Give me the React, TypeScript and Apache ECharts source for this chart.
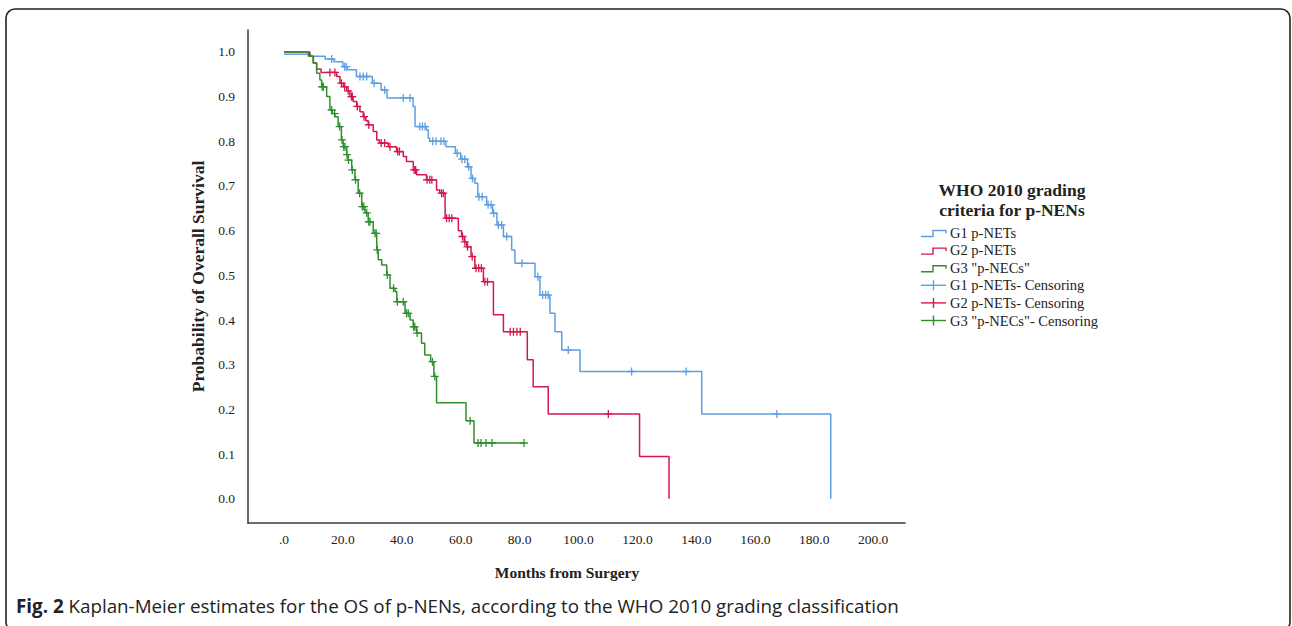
import React, { useEffect, useRef } from 'react';
import * as echarts from 'echarts';

// ---------- data ----------
const xTickValues = [0, 20, 40, 60, 80, 100, 120, 140, 160, 180, 200];
const yTickValues = [0, 0.1, 0.2, 0.3, 0.4, 0.5, 0.6, 0.7, 0.8, 0.9, 1.0];

const seriesNames = ['G1 p-NETs', 'G2 p-NETs', 'G3 "p-NECs"'];
const censorNames = ['G1 p-NETs- Censoring', 'G2 p-NETs- Censoring', 'G3 "p-NECs"- Censoring'];
const seriesColors = ['#5f9ee2', '#d4184b', '#2f8f2f'];

// Kaplan-Meier steps: [month, survival after the event]
const g1Steps: [number, number][] = [
  [0, 0.995], [9, 0.99], [14, 0.984], [17, 0.978], [20, 0.967], [21.5, 0.96], [24.6, 0.945],
  [30, 0.93], [33, 0.915], [35, 0.897], [43.8, 0.878], [44.5, 0.833], [48.4, 0.825],
  [49, 0.807], [49.5, 0.8], [55, 0.788], [58.2, 0.773], [60, 0.76], [62.3, 0.743],
  [63.5, 0.717], [64.8, 0.706], [65.8, 0.676], [68.8, 0.658], [70.8, 0.639], [72.3, 0.613],
  [74.5, 0.587], [77.3, 0.557], [78.4, 0.527], [85.2, 0.497], [86.9, 0.456], [90.3, 0.415],
  [92, 0.374], [94.3, 0.333], [100.5, 0.285], [141.8, 0.19], [185.6, 0.0],
];
const g1CensorMonths = [
  16.2, 20.6, 21.2, 25.8, 26.9, 28.1, 30.6, 34.2, 40.5, 42.8, 46.1, 47.0, 47.9,
  50.5, 51.6, 53.3, 54.3, 58.8, 60.4, 61.4, 62.7, 64.0, 66.2, 67.3, 69.3, 70.3,
  71.2, 72.8, 73.9, 75.6, 80.8, 86.2, 87.8, 88.8, 89.7, 96.5, 118, 136.5, 167.3,
];

const g2Steps: [number, number][] = [
  [0, 1.0], [8.8, 0.99], [10, 0.975], [11.1, 0.962], [12.6, 0.954], [17.9, 0.945],
  [19, 0.93], [20.2, 0.922], [21.3, 0.913], [22.4, 0.9], [23.5, 0.889], [24.7, 0.878],
  [25.8, 0.866], [26.9, 0.855], [27.8, 0.846], [28.6, 0.837], [30.3, 0.822], [31.5, 0.803],
  [32.4, 0.796], [35.4, 0.788], [38.2, 0.777], [40.5, 0.766], [41.6, 0.755], [43.9, 0.736],
  [45, 0.725], [48.4, 0.714], [51.8, 0.691], [52.9, 0.684], [54.7, 0.628], [59.2, 0.6],
  [60.3, 0.587], [61.2, 0.575], [62, 0.564], [63.5, 0.542], [64.8, 0.516], [67.7, 0.486],
  [71.1, 0.412], [74.5, 0.374], [82.6, 0.311], [84.6, 0.251], [89.7, 0.19], [120.7, 0.095],
  [130.7, 0.0],
];
const g2CensorMonths = [
  15.6, 17.3, 19.5, 20.6, 21.8, 22.9, 23.2, 24.9, 27.2, 28.8, 33.0, 34.2, 36.0,
  38.6, 39.2, 44.2, 44.7, 48.6, 49.5, 50.2, 53.5, 54.1, 55.2, 56.1, 57.0, 60.6,
  61.4, 62.3, 63.9, 65.2, 66.1, 67.0, 68.2, 69.1, 76.8, 77.9, 79.1, 80.2, 110.1,
];

const g3Steps: [number, number][] = [
  [0, 1.0], [8.3, 0.99], [9.9, 0.975], [11.1, 0.952], [12.2, 0.937], [12.8, 0.922],
  [14.5, 0.9], [15.6, 0.87], [16.4, 0.862], [17.3, 0.855], [18.4, 0.833], [19.5, 0.803],
  [20.1, 0.788], [21.3, 0.77], [21.8, 0.758], [23, 0.736], [24.1, 0.714], [25.2, 0.684],
  [26.4, 0.654], [27.5, 0.64], [28.6, 0.62], [30.3, 0.594], [31.5, 0.557], [32, 0.535],
  [33.2, 0.523], [34.9, 0.501], [36, 0.471], [37.7, 0.464], [38.3, 0.441], [41.1, 0.415],
  [42.8, 0.4], [43.9, 0.385], [45, 0.371], [46.7, 0.348], [47.8, 0.322], [49.8, 0.307],
  [50.9, 0.274], [51.8, 0.215], [61.8, 0.175], [64.5, 0.125], [81.5, 0.125],
];
const g3CensorMonths = [
  13.0, 13.4, 16.2, 17.2, 18.9, 19.7, 20.3, 20.7, 21.4, 21.9, 23.2, 24.3, 25.7,
  26.6, 27.1, 28.1, 28.8, 29.2, 30.9, 31.3, 31.7, 35.1, 37.2, 38.5, 40.5, 41.6,
  42.2, 44.0, 44.4, 45.2, 50.4, 51.2, 63.2, 65.9, 66.9, 68.6, 70.6, 81.5,
];

const allSteps = [g1Steps, g2Steps, g3Steps];
const allCensors = [g1CensorMonths, g2CensorMonths, g3CensorMonths];

function survivalAt(steps: [number, number][], m: number): number {
  let s = steps[0][1];
  for (const [t, v] of steps) {
    if (t <= m) s = v;
    else break;
  }
  return s;
}

// ---------- layout / style ----------
const SERIF = '"Liberation Serif", "Times New Roman", serif';
const SANS = '"Open Sans", "Noto Sans", sans-serif';
const PLUS = 'path://M3.35,0H4.65V3.35H8V4.65H4.65V8H3.35V4.65H0V3.35H3.35Z';

export default function App() {
  const ref = useRef<HTMLDivElement>(null);

  useEffect(() => {
    document.body.style.margin = '0';
    if (!ref.current) return;
    const chart = echarts.init(ref.current, undefined, { renderer: 'svg' });

    const lineSeries = allSteps.map((steps, i) => ({
      name: seriesNames[i],
      type: 'line',
      step: 'end',
      data: steps,
      showSymbol: false,
      symbol: 'none',
      lineStyle: { color: seriesColors[i], width: 1.5 },
      itemStyle: { color: seriesColors[i] },
      z: 3,
    }));
    const censorSeries = allCensors.map((months, i) => ({
      name: censorNames[i],
      type: 'scatter',
      data: months.map((m) => [m, survivalAt(allSteps[i], m)]),
      symbol: PLUS,
      symbolSize: 8,
      itemStyle: { color: seriesColors[i], opacity: 1 },
      z: 4,
    }));

    const legendTop = 232.5;
    const legendGap = 17.6;
    const legendGraphics: any[] = [];
    const legendLabels = [...seriesNames, ...censorNames];
    legendLabels.forEach((label, k) => {
      const cy = legendTop + k * legendGap;
      const color = seriesColors[k % 3];
      if (k < 3) {
        legendGraphics.push({
          type: 'polyline',
          shape: { points: [[921, cy + 4], [933, cy + 4], [933, cy - 2], [946, cy - 2], [946, cy + 1]] },
          style: { stroke: color, lineWidth: 1.4, fill: null },
        });
      } else {
        legendGraphics.push({
          type: 'line',
          shape: { x1: 921, y1: cy, x2: 946, y2: cy },
          style: { stroke: color, lineWidth: 1.4 },
        });
        legendGraphics.push({
          type: 'line',
          shape: { x1: 933.5, y1: cy - 5, x2: 933.5, y2: cy + 5 },
          style: { stroke: color, lineWidth: 1.4 },
        });
      }
      legendGraphics.push({
        type: 'text',
        x: 950,
        y: cy,
        style: {
          text: label,
          fill: '#222',
          font: `14.5px ${SERIF}`,
          textVerticalAlign: 'middle',
          textAlign: 'left',
        },
      });
    });

    chart.setOption({
      animation: false,
      backgroundColor: '#ffffff',
      grid: { left: 248, top: 30, width: 657, height: 493, containLabel: false },
      xAxis: {
        type: 'value',
        min: -12.2,
        max: 210.8,
        axisLine: { show: true, onZero: false, lineStyle: { color: '#3a3a3a', width: 1.5 } },
        axisTick: { show: false },
        splitLine: { show: false },
        axisLabel: {
          customValues: xTickValues,
          formatter: (v: number) => (v === 0 ? '.0' : v.toFixed(1)),
          color: '#222',
          fontFamily: SERIF,
          fontSize: 13.5,
          margin: 9,
        },
      },
      yAxis: {
        type: 'value',
        min: -0.054,
        max: 1.049,
        name: 'Probability of Overall Survival',
        nameLocation: 'middle',
        nameGap: 37,
        nameTextStyle: { fontFamily: SERIF, fontWeight: 'bold', fontSize: 17.5, color: '#222' },
        axisLine: { show: true, onZero: false, lineStyle: { color: '#3a3a3a', width: 1.5 } },
        axisTick: { show: false },
        splitLine: { show: false },
        axisLabel: {
          customValues: yTickValues,
          formatter: (v: number) => v.toFixed(1),
          color: '#222',
          fontFamily: SERIF,
          fontSize: 13.5,
          margin: 13,
        },
      },
      series: [...lineSeries, ...censorSeries],
      graphic: [
        {
          type: 'rect',
          shape: { x: 6, y: 9, width: 1284, height: 622, r: 9 },
          style: { fill: null, stroke: '#222', lineWidth: 1.6 },
          silent: true,
        },
        {
          type: 'text',
          x: 567,
          y: 572,
          style: {
            text: 'Months from Surgery',
            font: `bold 15.5px ${SERIF}`,
            fill: '#222',
            textAlign: 'center',
            textVerticalAlign: 'middle',
          },
        },
        {
          type: 'text',
          x: 1012,
          y: 190,
          style: {
            text: 'WHO 2010 grading',
            font: `bold 17.5px ${SERIF}`,
            fill: '#222',
            textAlign: 'center',
            textVerticalAlign: 'middle',
          },
        },
        {
          type: 'text',
          x: 1012,
          y: 210,
          style: {
            text: 'criteria for p-NENs',
            font: `bold 17.5px ${SERIF}`,
            fill: '#222',
            textAlign: 'center',
            textVerticalAlign: 'middle',
          },
        },
        ...legendGraphics,
        {
          type: 'text',
          x: 16,
          y: 606,
          style: {
            text: '{b|Fig. 2} Kaplan-Meier estimates for the OS of p-NENs, according to the WHO 2010 grading classification',
            font: `18.8px ${SANS}`,
            fill: '#222',
            textVerticalAlign: 'middle',
            rich: {
              b: { fontFamily: SANS, fontSize: 18.8, fontWeight: 'bold', fill: '#222' },
            },
          },
        },
      ],
    });

    return () => chart.dispose();
  }, []);

  return <div ref={ref} style={{ width: 1292, height: 626 }} />;
}
